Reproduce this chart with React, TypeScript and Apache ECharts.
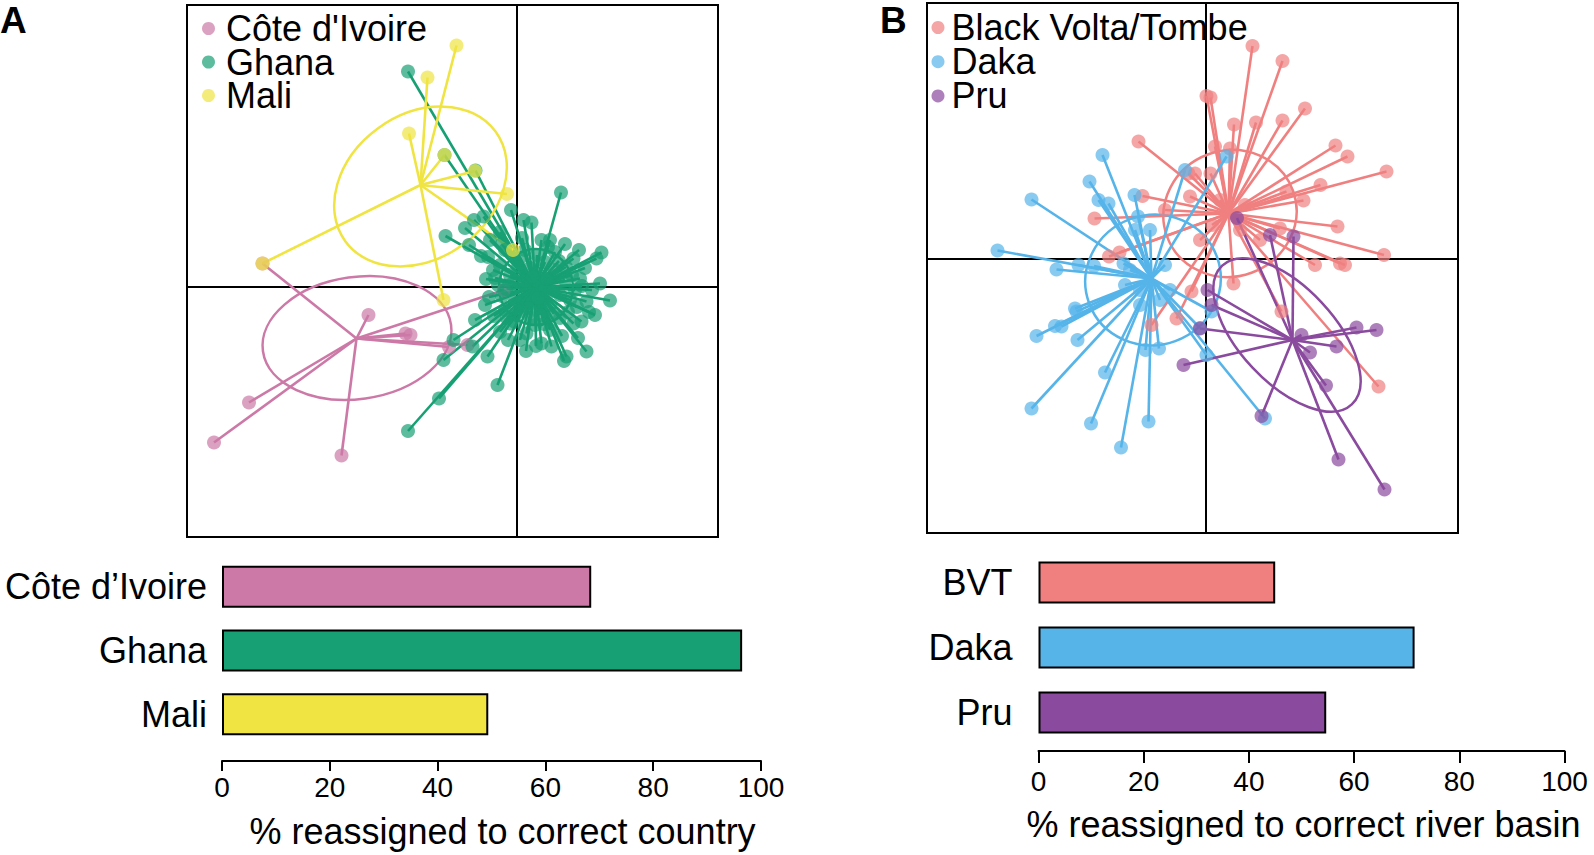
import React, { useEffect, useRef } from "react";
import * as echarts from "echarts";

const FONT = '"Liberation Sans", Arial, Helvetica, sans-serif';

// ---------- Panel A : DAPC by country (LD scores) ----------
const countryNames = ["Côte d'Ivoire", "Ghana", "Mali"];
const countryColors = ["#CC79A7", "#17A073", "#F0E442"];

const ciPoints = [
  [-5.09, 0.47], [-2.97, -0.56], [-2.23, -0.93], [-2.13, -0.96], [-0.99, -1.16],
  [-1.36, -1.2], [-0.26, -0.06], [-5.36, -2.31], [-6.06, -3.11], [-3.51, -3.37],
];
const ciCentroid = [-3.21, -1.03];
const ciEllipse = [-3.2, -1.02, 1.9, 1.22, 8];

const ghanaPoints = [
  [-2.18, 4.31], [-1.45, 2.64], [-0.83, 2.33], [-1.04, 1.18], [-1.43, 1.02],
  [-0.12, 1.54], [-0.86, 1.34], [-0.58, 0.6], [0.88, 1.89], [0.13, 1.34],
  [0.29, 1.29], [-0.67, 1.41], [0.49, 0.94], [0.66, 0.94], [1.13, 0.57],
  [1.69, 0.69], [1.59, 0.57], [1.26, 0.17], [1.66, 0.07], [1.86, -0.27],
  [1.56, -0.56], [1.39, -0.29], [1.29, -0.69], [1.13, -0.73], [1.39, -1.29],
  [0.99, -1.39], [0.69, -1.19], [0.49, -1.13], [0.19, -0.93], [-0.14, -0.73],
  [-0.64, -0.36], [-0.84, -0.66], [-1.27, -1.06], [-1.47, -1.46], [-0.21, -0.04],
  [-0.48, 0.34], [-0.59, -1.39], [-0.89, -1.19], [-0.39, -1.96], [-1.56, -2.23],
  [-2.18, -2.88], [0.94, -1.48], [0.38, -1.18], [-0.34, 0.44], [-0.14, 0.24],
  [0.06, 0.58], [0.26, 0.38], [0.56, 0.5], [0.76, 0.34], [0.96, 0.14],
  [0.86, -0.16], [0.66, -0.36], [0.46, -0.56], [0.22, -0.42], [-0.04, -0.26],
  [-0.24, -0.46], [-0.38, 0.04], [0.56, -0.06], [1.06, -0.26], [0.86, -0.62],
  [0.36, -0.76], [-0.04, -0.7], [-0.34, -0.9], [0.16, 0.74], [0.76, 0.7],
  [1.16, -0.06], [-0.24, 0.74], [1.36, 0.38], [0.66, -0.86], [0.06, -1.06],
  [-0.34, 1.1], [-0.54, 0.94], [1.5, -0.06], [1.22, -1.02],
  [-0.44, 0.18], [-0.3, -0.18], [-0.1, 0.06], [0.02, 0.4], [0.14, 0.12],
  [0.3, 0.2], [0.42, -0.22], [0.6, 0.16], [0.72, -0.08], [0.84, 0.52],
  [0.98, 0.4], [1.1, 0.24], [1.2, -0.4], [1.02, -0.5], [0.74, -0.54],
  [0.54, -0.74], [0.28, -0.62], [0.08, -0.48], [-0.2, -0.62], [-0.46, -0.58],
  [-0.56, -0.2], [-0.62, 0.16], [0.4, 0.64], [0.62, 0.8], [0.96, 0.86],
  [1.3, 0.02], [1.44, -0.5], [0.9, -0.98], [0.18, -1.28], [-0.18, -1.06],
  [-0.72, 0.62], [-0.96, 0.84], [-0.3, 0.86], [0.1, 0.98], [1.24, 0.74],
];
const ghanaCentroid = [0.36, 0.0];
const ghanaEllipse = [0.38, 0.0, 0.74, 0.76, 0];

const maliPoints = [
  [-1.21, 4.83], [-1.79, 4.19], [-2.16, 3.07], [-1.45, 2.64], [-0.84, 2.32],
  [-0.2, 1.86], [-5.09, 0.47], [-1.47, -0.26], [-0.08, 0.74],
];
const maliCentroid = [-1.93, 2.04];
const maliEllipse = [-1.93, 2.01, 1.86, 1.44, 36];

// ---------- Panel B : DAPC by river basin ----------
const basinNames = ["Black Volta/Tombe", "Daka", "Pru"];
const basinColors = ["#F08080", "#56B4E9", "#8A4A9E"];

const bvtPoints = [
  [-1.35, 2.35], [-1.27, 1.26], [-2.23, 0.81], [-1.73, 0.13], [-1.94, 0.05],
  [-0.82, 0.98], [-0.32, 1.25], [-0.35, 1.71], [0.93, 4.26], [1.53, 3.96],
  [0.01, 3.26], [0.09, 3.23], [0.56, 2.69], [1.0, 2.73], [1.53, 2.77],
  [1.98, 3.01], [2.59, 2.27], [2.83, 2.05], [3.61, 1.75], [2.29, 1.48],
  [1.95, 1.17], [1.61, 1.35], [0.18, 2.25], [0.48, 2.21], [0.09, 1.71],
  [-0.22, 1.71], [2.63, 0.65], [3.56, 0.08], [1.48, 0.61], [2.18, -0.12],
  [2.68, -0.09], [2.78, -0.12], [1.08, 0.38], [3.45, -2.55], [-0.59, -1.19],
  [0.55, -0.49], [1.51, -1.05], [-1.09, -1.32], [-0.29, -0.65], [0.28, 1.18],
  [0.78, 1.08], [0.12, 0.68], [0.68, 0.58], [-0.12, 0.38],
];
const bvtCentroid = [0.45, 0.91];
const bvtEllipse = [0.48, 0.91, 1.34, 1.26, 20];

const dakaPoints = [
  [-2.07, 2.08], [-2.33, 1.55], [-3.49, 1.19], [-2.15, 1.18], [-1.95, 1.11],
  [-1.43, 1.28], [-0.42, 1.78], [-4.17, 0.17], [-1.42, 0.58], [-1.12, 0.58],
  [-2.99, -0.21], [-2.55, -0.12], [-1.65, -0.09], [-2.62, -0.99], [-2.59, -1.05],
  [-3.02, -1.34], [-2.89, -1.35], [-3.39, -1.54], [-2.57, -1.62], [-1.32, -0.92],
  [-2.02, -2.27], [-3.49, -2.99], [-2.3, -3.29], [-1.7, -3.77], [-1.15, -3.25],
  [-1.21, -1.82], [-0.94, -1.79], [1.18, -3.19], [0.11, -1.05], [0.01, -1.92],
  [0.41, 2.05], [-0.12, -1.38], [-1.36, 0.85], [-2.24, -0.14], [-1.52, -0.22],
  [-0.82, -0.12], [-0.72, -0.62], [-1.32, -0.62], [-0.92, -0.82], [-1.62, -0.52],
];
const dakaCentroid = [-1.09, -0.39];
const dakaEllipse = [-1.06, -0.42, 1.36, 1.3, 20];

const pruPoints = [
  [0.03, -0.62], [0.11, -0.92], [-0.45, -2.12], [-0.12, -1.39], [1.11, -3.14],
  [1.91, -1.52], [2.08, -1.87], [2.61, -1.75], [3.01, -1.37], [3.41, -1.42],
  [2.4, -2.53], [2.65, -4.01], [3.57, -4.61], [1.75, 0.45], [1.28, 0.48],
  [0.62, 0.82],
];
const pruCentroid = [1.73, -1.62];
const pruEllipse = [1.62, -1.52, 1.9, 0.95, -47];

// ---------- Bars : % reassigned ----------
const countryBarLabels = ["Côte d’Ivoire", "Ghana", "Mali"];
const countryReassigned = [68.5, 96.5, 49.4];
const basinBarLabels = ["BVT", "Daka", "Pru"];
const basinReassigned = [45.0, 71.5, 54.7];
const pctTicks = [0, 20, 40, 60, 80, 100];

function groupSeries(
  name: string,
  color: string,
  pts: number[][],
  centroid: number[],
  ellipse: number[],
  gi: number
) {
  return [
    {
      name: name + " links",
      type: "lines",
      coordinateSystem: "cartesian2d",
      xAxisIndex: gi,
      yAxisIndex: gi,
      silent: true,
      data: pts.map((p) => ({ coords: [p, centroid] })),
      lineStyle: { color, width: 2.6, opacity: 1, type: "solid" },
    },
    {
      name,
      type: "scatter",
      xAxisIndex: gi,
      yAxisIndex: gi,
      symbol: "circle",
      symbolSize: 14,
      data: pts,
      itemStyle: { color, opacity: 0.7 },
      silent: true,
    },
    {
      name: name + " ellipse",
      type: "custom",
      xAxisIndex: gi,
      yAxisIndex: gi,
      silent: true,
      data: [ellipse],
      renderItem: (params: any, api: any) => {
        const c = api.coord([api.value(0), api.value(1)]);
        const s = api.size([api.value(2), api.value(3)]);
        return {
          type: "ellipse",
          x: c[0],
          y: c[1],
          rotation: (api.value(4) * Math.PI) / 180,
          shape: { cx: 0, cy: 0, rx: s[0], ry: s[1] },
          style: { fill: "none", stroke: color, lineWidth: 2.5 },
        };
      },
    },
  ];
}

function scatterX(gi: number, min: number, max: number) {
  return {
    type: "value",
    gridIndex: gi,
    min,
    max,
    axisLine: { show: true, onZero: true, lineStyle: { color: "#000", width: 2 } },
    axisTick: { show: false },
    axisLabel: { show: false },
    splitLine: { show: false },
  };
}
function scatterY(gi: number, min: number, max: number) {
  return scatterX(gi, min, max);
}

function barX(
  gi: number,
  name: string,
  offset: number,
  tickLen: number,
  labelMargin: number,
  nameGap: number,
  namePad: number[]
) {
  return {
    type: "value",
    gridIndex: gi,
    min: pctTicks[0],
    max: pctTicks[pctTicks.length - 1],
    interval: pctTicks[1] - pctTicks[0],
    offset,
    name,
    nameLocation: "middle",
    nameGap,
    nameTextStyle: { fontSize: 36, color: "#000", fontFamily: FONT, padding: namePad },
    axisLine: { show: true, lineStyle: { color: "#000", width: 2 } },
    axisTick: { show: true, length: tickLen, lineStyle: { color: "#000", width: 2 } },
    axisLabel: { fontSize: 28, color: "#000", margin: labelMargin, fontFamily: FONT },
    splitLine: { show: false },
  };
}
function barY(gi: number, cats: string[], margin: number) {
  return {
    type: "category",
    gridIndex: gi,
    data: cats,
    inverse: true,
    axisLine: { show: false },
    axisTick: { show: false },
    axisLabel: { fontSize: 36, color: "#000", margin, fontFamily: FONT },
  };
}

export default function App() {
  const ref = useRef<HTMLDivElement>(null);
  useEffect(() => {
    if (!ref.current) return;
    const chart = echarts.init(ref.current, null, { renderer: "svg" });
    const option: any = {
      animation: false,
      textStyle: { fontFamily: FONT },
      grid: [
        { left: 187, top: 5, width: 531, height: 532, show: true, borderColor: "#000", borderWidth: 2, backgroundColor: "transparent" },
        { left: 927, top: 3, width: 531, height: 530, show: true, borderColor: "#000", borderWidth: 2, backgroundColor: "transparent" },
        { left: 222, top: 555, width: 539, height: 191 },
        { left: 1038.5, top: 550, width: 526, height: 195 },
      ],
      xAxis: [
        scatterX(0, -6.6, 4.02),
        scatterX(1, -5.58, 5.04),
        barX(2, "% reassigned to correct country", 15, 10, 12, 52, [0, 0, 0, 22]),
        barX(3, "% reassigned to correct river basin", 6, 12, 16, 55, [0, 0, 0, 4]),
      ],
      yAxis: [
        scatterY(0, -5.0, 5.64),
        scatterY(1, -5.48, 5.12),
        barY(2, countryBarLabels, 15),
        barY(3, basinBarLabels, 26),
      ],
      legend: [
        {
          left: 202,
          top: 10.5,
          padding: 0,
          orient: "vertical",
          icon: "circle",
          itemWidth: 13,
          itemHeight: 13,
          itemGap: -2.5,
          selectedMode: false,
          textStyle: { fontSize: 36, lineHeight: 33, color: "#000", padding: [0, 0, 0, 6], fontFamily: FONT },
          data: countryNames,
        },
        {
          left: 931.5,
          top: 9.5,
          padding: 0,
          orient: "vertical",
          icon: "circle",
          itemWidth: 13,
          itemHeight: 13,
          itemGap: -1.8,
          selectedMode: false,
          textStyle: { fontSize: 36, lineHeight: 33, color: "#000", padding: [0, 0, 0, 2], fontFamily: FONT },
          data: basinNames,
        },
      ],
      graphic: [
        { type: "text", left: 0, top: 2, style: { text: "A", fontSize: 37, fontWeight: "bold", fill: "#000", fontFamily: FONT } },
        { type: "text", left: 880, top: 2, style: { text: "B", fontSize: 37, fontWeight: "bold", fill: "#000", fontFamily: FONT } },
      ],
      series: [
        ...groupSeries(countryNames[0], countryColors[0], ciPoints, ciCentroid, ciEllipse, 0),
        ...groupSeries(countryNames[1], countryColors[1], ghanaPoints, ghanaCentroid, ghanaEllipse, 0),
        ...groupSeries(countryNames[2], countryColors[2], maliPoints, maliCentroid, maliEllipse, 0),
        ...groupSeries(basinNames[0], basinColors[0], bvtPoints, bvtCentroid, bvtEllipse, 1),
        ...groupSeries(basinNames[1], basinColors[1], dakaPoints, dakaCentroid, dakaEllipse, 1),
        ...groupSeries(basinNames[2], basinColors[2], pruPoints, pruCentroid, pruEllipse, 1),
        {
          name: "country reassignment",
          type: "bar",
          xAxisIndex: 2,
          yAxisIndex: 2,
          barWidth: 42,
          silent: true,
          data: countryReassigned.map((v, i) => ({
            value: v,
            itemStyle: { color: countryColors[i], borderColor: "#000", borderWidth: 2 },
          })),
        },
        {
          name: "basin reassignment",
          type: "bar",
          xAxisIndex: 3,
          yAxisIndex: 3,
          barWidth: 42,
          silent: true,
          data: basinReassigned.map((v, i) => ({
            value: v,
            itemStyle: { color: basinColors[i], borderColor: "#000", borderWidth: 2 },
          })),
        },
      ],
    };
    chart.setOption(option);
    return () => chart.dispose();
  }, []);
  return (
    <div
      ref={ref}
      style={{ position: "absolute", left: 0, top: 0, width: 1594, height: 855, background: "#fff" }}
    />
  );
}
